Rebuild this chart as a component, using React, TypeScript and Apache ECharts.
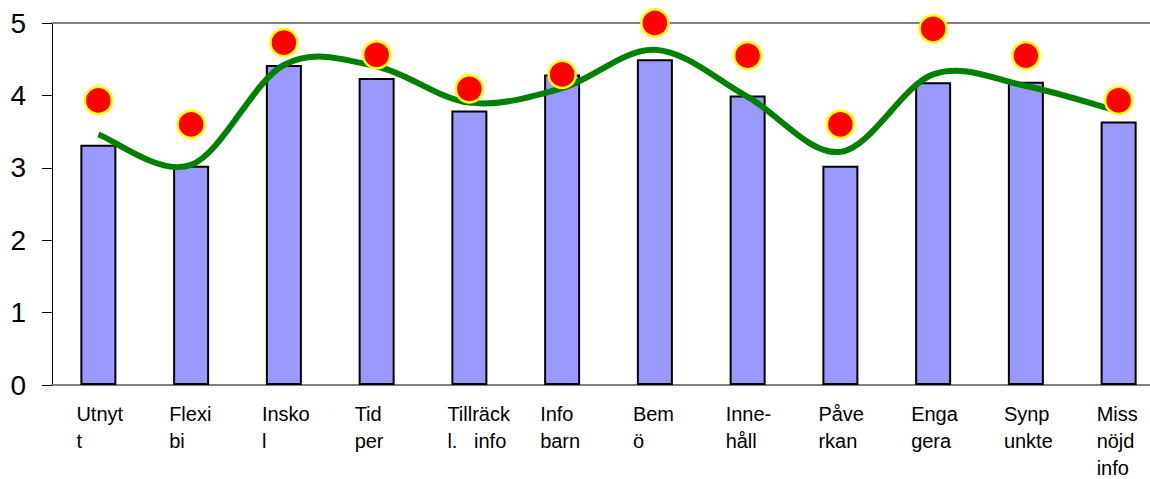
import React, { useEffect, useRef } from "react";
import * as echarts from "echarts";

const categories = [
  "Utnyt\nt",
  "Flexi\nbi",
  "Insko\nl",
  "Tid\nper",
  "Tillräck\nl.   info",
  "Info\nbarn",
  "Bem\nö",
  "Inne-\nhåll",
  "Påve\nrkan",
  "Enga\ngera",
  "Synp\nunkte",
  "Miss\nnöjd\ninfo",
];
const barValues = [3.32, 3.03, 4.42, 4.24, 3.79, 4.29, 4.5, 4.0, 3.03, 4.18, 4.19, 3.64];
const dotValues = [3.93, 3.6, 4.73, 4.56, 4.09, 4.29, 5.0, 4.55, 3.6, 4.92, 4.55, 3.93];
const trendValues = [3.46, 3.04, 4.42, 4.4, 3.9, 4.1, 4.63, 3.98, 3.22, 4.29, 4.13, 3.78];
const yTicks = { min: 0, max: 5, interval: 1 };

const FONT = "'Liberation Sans', Arial, sans-serif";

export default function App() {
  const ref = useRef<HTMLDivElement>(null);
  useEffect(() => {
    if (!ref.current) return;
    document.documentElement.style.overflow = "hidden";
    document.body.style.overflow = "hidden";
    const chart = echarts.init(ref.current, null, { renderer: "svg" });
    const n = trendValues.length;
    const trendData = trendValues.map((v, i) => [i, v]);
    chart.setOption({
      animation: false,
      backgroundColor: "#ffffff",
      grid: { left: 52, right: 0, top: 23, bottom: 94, containLabel: false },
      xAxis: [
        {
          type: "category",
          data: categories,
          boundaryGap: true,
          axisLine: { show: true, lineStyle: { color: "#808080", width: 2 } },
          axisTick: { show: false },
          axisLabel: {
            interval: 0,
            margin: 15,
            formatter: (v: string) =>
              v
                .split("\n")
                .map((s) => `{a|${s}}`)
                .join("\n"),
            rich: {
              a: {
                fontSize: 20,
                fontFamily: FONT,
                color: "#000000",
                lineHeight: 27,
                width: 44,
                align: "left",
              },
            },
          },
          splitLine: { show: false },
        },
        {
          type: "category",
          data: categories,
          position: "top",
          axisLine: { show: true, lineStyle: { color: "#808080", width: 2 } },
          axisTick: { show: false },
          axisLabel: { show: false },
          splitLine: { show: false },
        },
      ],
      yAxis: {
        type: "value",
        min: yTicks.min,
        max: yTicks.max,
        interval: yTicks.interval,
        axisLine: { show: true, lineStyle: { color: "#000000", width: 1 } },
        axisTick: { show: true, length: 10, lineStyle: { color: "#000000", width: 1 } },
        axisLabel: { fontSize: 28, fontFamily: FONT, color: "#000000", margin: 26 },
        splitLine: { show: false },
      },
      series: [
        {
          type: "bar",
          data: barValues,
          barWidth: 36,
          itemStyle: { color: "#9999FF", borderColor: "#000000", borderWidth: 2 },
          z: 2,
        },
        {
          type: "custom",
          data: trendData,
          encode: { x: 0, y: 1 },
          z: 3,
          clip: false,
          renderItem: (params: any, api: any) => {
            if (params.dataIndexInside !== 0) return null;
            const pts: number[][] = [];
            for (let i = 0; i < n; i++) {
              pts.push(api.coord([api.value(0, i), api.value(1, i)]));
            }
            let d = `M${pts[0][0]},${pts[0][1]}`;
            for (let i = 0; i < n - 1; i++) {
              const p0 = pts[Math.max(0, i - 1)];
              const p1 = pts[i];
              const p2 = pts[i + 1];
              const p3 = pts[Math.min(n - 1, i + 2)];
              const c1x = p1[0] + (p2[0] - p0[0]) / 6;
              const c1y = p1[1] + (p2[1] - p0[1]) / 6;
              const c2x = p2[0] - (p3[0] - p1[0]) / 6;
              const c2y = p2[1] - (p3[1] - p1[1]) / 6;
              d += ` C${c1x},${c1y} ${c2x},${c2y} ${p2[0]},${p2[1]}`;
            }
            return {
              type: "path",
              shape: { pathData: d },
              style: {
                fill: "none",
                stroke: "#008000",
                lineWidth: 6,
                lineJoin: "round",
                lineCap: "butt",
              },
            };
          },
        },
        {
          type: "scatter",
          data: dotValues,
          symbol: "circle",
          symbolSize: 27,
          itemStyle: {
            color: "#FF0000",
            borderColor: "#FFFF00",
            borderWidth: 2.5,
            opacity: 1,
          },
          z: 4,
        },
      ],
    });
    return () => chart.dispose();
  }, []);
  return (
    <div
      ref={ref}
      style={{ position: "fixed", left: 0, top: 0, width: 1165, height: 479 }}
    />
  );
}
